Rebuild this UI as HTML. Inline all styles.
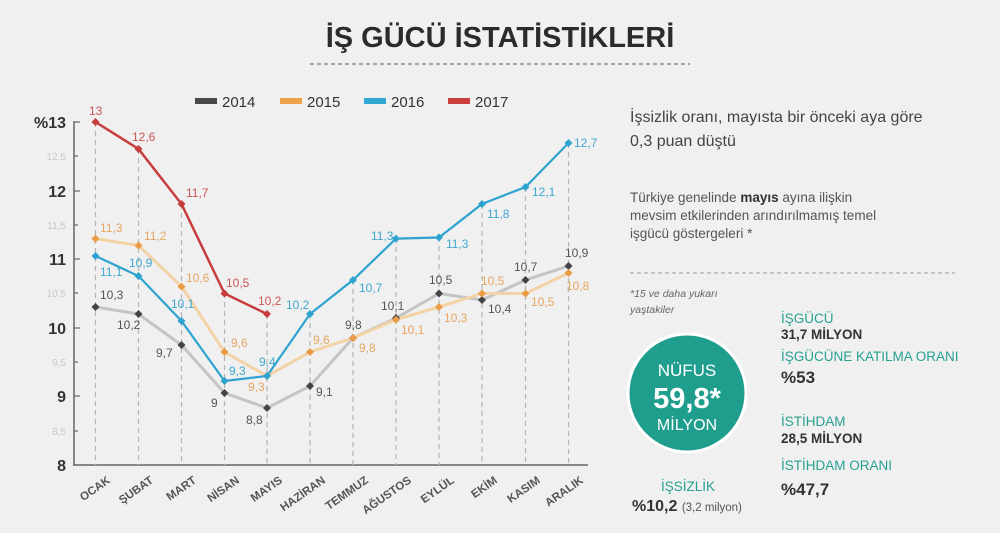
<!DOCTYPE html>
<html><head><meta charset="utf-8"><style>
body{margin:0;background:#f0f0f1;font-family:"Liberation Sans",sans-serif;}
svg{display:block}
</style></head><body>
<svg width="1000" height="533" viewBox="0 0 1000 533" xmlns="http://www.w3.org/2000/svg" font-family="Liberation Sans, sans-serif">
<rect width="1000" height="533" fill="#f0f0f1"/>
<text x="500" y="47" text-anchor="middle" font-size="29" font-weight="bold" fill="#2b2b2b">İŞ GÜCÜ İSTATİSTİKLERİ</text>
<line x1="310" y1="64" x2="690" y2="64" stroke="#777" stroke-dasharray="4,3" stroke-width="1.3"/>
<g font-size="15" fill="#333">
<rect x="195" y="98" width="22" height="6" fill="#4a4a4a"/><text x="222" y="107">2014</text>
<rect x="280" y="98" width="22" height="6" fill="#eea34b"/><text x="307" y="107">2015</text>
<rect x="364" y="98" width="22" height="6" fill="#2fa8d4"/><text x="391" y="107">2016</text>
<rect x="448" y="98" width="22" height="6" fill="#cc3f3f"/><text x="475" y="107">2017</text>
</g>
<line x1="74" y1="121" x2="74" y2="465" stroke="#666" stroke-width="1.5"/>
<line x1="73" y1="465" x2="588" y2="465" stroke="#666" stroke-width="1.5"/>
<g stroke="#666" stroke-width="1.2">
<line x1="74" y1="122" x2="80" y2="122"/><line x1="74" y1="156" x2="78" y2="156"/><line x1="74" y1="191" x2="80" y2="191"/><line x1="74" y1="225" x2="78" y2="225"/><line x1="74" y1="259" x2="80" y2="259"/><line x1="74" y1="293" x2="78" y2="293"/><line x1="74" y1="328" x2="80" y2="328"/><line x1="74" y1="362" x2="78" y2="362"/><line x1="74" y1="396" x2="80" y2="396"/><line x1="74" y1="431" x2="78" y2="431"/>
</g>
<g font-size="16" font-weight="bold" fill="#333" text-anchor="end">
<text x="66" y="128">%13</text><text x="66" y="197">12</text><text x="66" y="265">11</text><text x="66" y="334">10</text><text x="66" y="402">9</text><text x="66" y="471">8</text>
</g>
<g font-size="10" fill="#c8c8c8" text-anchor="end">
<text x="66" y="160">12,5</text><text x="66" y="229">11,5</text><text x="66" y="297">10,5</text><text x="66" y="366">9,5</text><text x="66" y="435">8,5</text>
</g>
<g stroke="#b5b5b5" stroke-dasharray="5,4" stroke-width="1.2">
<line x1="95.5" y1="122" x2="95.5" y2="465"/><line x1="138.5" y1="149" x2="138.5" y2="465"/><line x1="181.5" y1="204" x2="181.5" y2="465"/><line x1="224.5" y1="293" x2="224.5" y2="465"/><line x1="267" y1="314" x2="267" y2="465"/><line x1="310" y1="314" x2="310" y2="465"/><line x1="353" y1="280" x2="353" y2="465"/><line x1="396" y1="238" x2="396" y2="465"/><line x1="439" y1="237" x2="439" y2="465"/><line x1="482" y1="204" x2="482" y2="465"/><line x1="525.5" y1="187" x2="525.5" y2="465"/><line x1="568.5" y1="143" x2="568.5" y2="465"/>
</g>
<polyline fill="none" stroke="#c4c4c4" stroke-width="3" points="95.5,307 138.5,314 181.5,345 224.5,393 267,408 310,386 353,338 396,318 439,293.5 482,300 525.5,280 568.5,266"/>
<polyline fill="none" stroke="#f3d2a6" stroke-width="3" points="95.5,238.6 138.5,245.5 181.5,286.6 224.5,352 267,376 310,352 353,338 396,319.6 439,307 482,293.5 525.5,293.5 568.5,273"/>
<polyline fill="none" stroke="#2fa3cf" stroke-width="2.2" points="95.5,256 138.5,276 181.5,321 224.5,381 267,376 310,314 353,280 396,238.6 439,237.5 482,204 525.5,187 568.5,143"/>
<polyline fill="none" stroke="#c73d3d" stroke-width="2.5" points="95.5,122 138.5,149 181.5,204 224.5,293.5 267,314"/>
<g fill="#444">
<path d="M95.5 303l4 4-4 4-4-4z"/><path d="M138.5 310l4 4-4 4-4-4z"/><path d="M181.5 341l4 4-4 4-4-4z"/><path d="M224.5 389l4 4-4 4-4-4z"/><path d="M267 404l4 4-4 4-4-4z"/><path d="M310 382l4 4-4 4-4-4z"/><path d="M353 334l4 4-4 4-4-4z"/><path d="M396 314l4 4-4 4-4-4z"/><path d="M439 289.5l4 4-4 4-4-4z"/><path d="M482 296l4 4-4 4-4-4z"/><path d="M525.5 276l4 4-4 4-4-4z"/><path d="M568.5 262l4 4-4 4-4-4z"/>
</g>
<g fill="#e99c45">
<path d="M95.5 234.6l4 4-4 4-4-4z"/><path d="M138.5 241.5l4 4-4 4-4-4z"/><path d="M181.5 282.6l4 4-4 4-4-4z"/><path d="M224.5 348l4 4-4 4-4-4z"/><path d="M267 372l4 4-4 4-4-4z"/><path d="M310 348l4 4-4 4-4-4z"/><path d="M353 334l4 4-4 4-4-4z"/><path d="M396 315.6l4 4-4 4-4-4z"/><path d="M439 303l4 4-4 4-4-4z"/><path d="M482 289.5l4 4-4 4-4-4z"/><path d="M525.5 289.5l4 4-4 4-4-4z"/><path d="M568.5 269l4 4-4 4-4-4z"/>
</g>
<g fill="#2fa3cf">
<path d="M95.5 252l4 4-4 4-4-4z"/><path d="M138.5 272l4 4-4 4-4-4z"/><path d="M181.5 317l4 4-4 4-4-4z"/><path d="M224.5 377l4 4-4 4-4-4z"/><path d="M267 372l4 4-4 4-4-4z"/><path d="M310 310l4 4-4 4-4-4z"/><path d="M353 276l4 4-4 4-4-4z"/><path d="M396 234.6l4 4-4 4-4-4z"/><path d="M439 233.5l4 4-4 4-4-4z"/><path d="M482 200l4 4-4 4-4-4z"/><path d="M525.5 183l4 4-4 4-4-4z"/><path d="M568.5 139l4 4-4 4-4-4z"/>
</g>
<g fill="#c73d3d">
<path d="M95.5 118l4 4-4 4-4-4z"/><path d="M138.5 145l4 4-4 4-4-4z"/><path d="M181.5 200l4 4-4 4-4-4z"/><path d="M224.5 289.5l4 4-4 4-4-4z"/><path d="M267 310l4 4-4 4-4-4z"/>
</g>
<g font-size="12">
<g fill="#cc5555"><text x="89" y="115">13</text><text x="132" y="141">12,6</text><text x="186" y="197">11,7</text><text x="226" y="287">10,5</text><text x="258" y="305">10,2</text></g>
<g fill="#e6a560"><text x="100" y="232">11,3</text><text x="144" y="240">11,2</text><text x="186" y="282">10,6</text><text x="231" y="347">9,6</text><text x="248" y="391">9,3</text><text x="313" y="344">9,6</text><text x="359" y="352">9,8</text><text x="401" y="334">10,1</text><text x="444" y="322">10,3</text><text x="481" y="285">10,5</text><text x="531" y="306">10,5</text><text x="566" y="290">10,8</text></g>
<g fill="#3fa7cf"><text x="100" y="276">11,1</text><text x="129" y="267">10,9</text><text x="171" y="308">10,1</text><text x="229" y="375">9,3</text><text x="259" y="366">9,4</text><text x="286" y="309">10,2</text><text x="359" y="292">10,7</text><text x="371" y="240">11,3</text><text x="446" y="248">11,3</text><text x="487" y="218">11,8</text><text x="532" y="196">12,1</text><text x="574" y="147">12,7</text></g>
<g fill="#555"><text x="100" y="299">10,3</text><text x="117" y="329">10,2</text><text x="156" y="357">9,7</text><text x="211" y="407">9</text><text x="246" y="424">8,8</text><text x="316" y="396">9,1</text><text x="345" y="329">9,8</text><text x="381" y="310">10,1</text><text x="429" y="284">10,5</text><text x="488" y="313">10,4</text><text x="514" y="271">10,7</text><text x="565" y="257">10,9</text></g>
</g>
<g font-size="11.5" font-weight="bold" fill="#555" text-anchor="end">
<text transform="translate(111,482) rotate(-35)">OCAK</text>
<text transform="translate(154,482) rotate(-35)">ŞUBAT</text>
<text transform="translate(197,482) rotate(-35)">MART</text>
<text transform="translate(240,482) rotate(-35)">NİSAN</text>
<text transform="translate(283,482) rotate(-35)">MAYIS</text>
<text transform="translate(326,482) rotate(-35)">HAZİRAN</text>
<text transform="translate(369,482) rotate(-35)">TEMMUZ</text>
<text transform="translate(412,482) rotate(-35)">AĞUSTOS</text>
<text transform="translate(455,482) rotate(-35)">EYLÜL</text>
<text transform="translate(498,482) rotate(-35)">EKİM</text>
<text transform="translate(541,482) rotate(-35)">KASIM</text>
<text transform="translate(584,482) rotate(-35)">ARALIK</text>
</g>
<g fill="#444" font-size="16"><text x="630" y="122">İşsizlik oranı, mayısta bir önceki aya göre</text><text x="630" y="146">0,3 puan düştü</text></g>
<g fill="#555" font-size="13.5"><text x="630" y="202">Türkiye genelinde <tspan font-weight="bold" fill="#333">mayıs</tspan> ayına ilişkin</text><text x="630" y="220">mevsim etkilerinden arındırılmamış temel</text><text x="630" y="238">işgücü göstergeleri *</text></g>
<line x1="630" y1="273" x2="955" y2="273" stroke="#999" stroke-dasharray="4,3"/>
<g fill="#666" font-size="10.5" font-style="italic"><text x="630" y="297">*15 ve daha yukarı</text><text x="630" y="313">yaştakiler</text></g>
<circle cx="687" cy="393" r="59" fill="#1f9e8e" stroke="#fff" stroke-width="3"/>
<g text-anchor="middle" fill="#fff"><text x="687" y="376" font-size="17">NÜFUS</text><text x="687" y="408" font-size="29" font-weight="bold">59,8*</text><text x="687" y="430" font-size="16">MİLYON</text></g>
<text x="688" y="491" text-anchor="middle" font-size="13.5" fill="#27a090">İŞSİZLİK</text>
<text x="632" y="511" font-size="16" font-weight="bold" fill="#333">%10,2 <tspan font-size="11.5" font-weight="normal" fill="#555">(3,2 milyon)</tspan></text>
<g font-size="13.5" fill="#27a090"><text x="781" y="323">İŞGÜCÜ</text><text x="781" y="361">İŞGÜCÜNE KATILMA ORANI</text><text x="781" y="426">İSTİHDAM</text><text x="781" y="470">İSTİHDAM ORANI</text></g>
<g font-weight="bold" fill="#333"><text x="781" y="339" font-size="13.5">31,7 MİLYON</text><text x="781" y="383" font-size="17">%53</text><text x="781" y="443" font-size="13.5">28,5 MİLYON</text><text x="781" y="495" font-size="17">%47,7</text></g>
</svg>
</body></html>
